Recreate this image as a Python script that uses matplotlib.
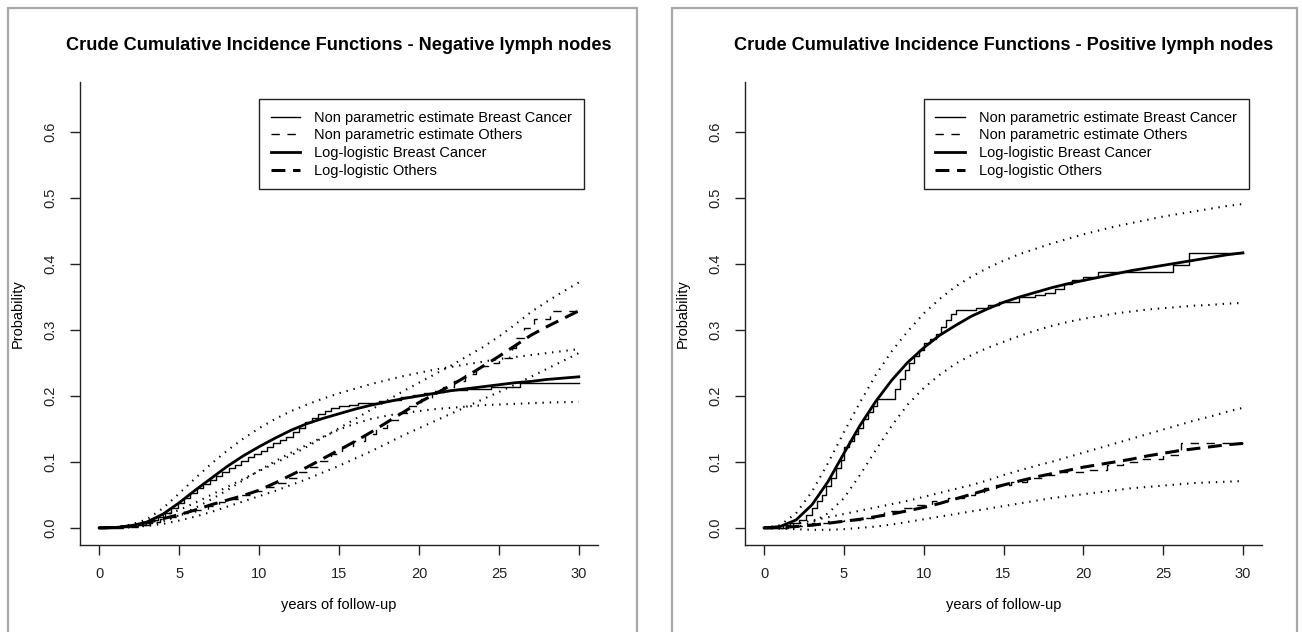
"""
Crude cumulative incidence curves for breast cancer death and other causes,
split by lymph node status: non parametric step estimates, log-logistic fits
and their pointwise bands.
"""
import matplotlib
matplotlib.use('Agg')
import matplotlib.pyplot as plt
from matplotlib.lines import Line2D
from matplotlib.patches import Rectangle

plt.rcParams['font.family'] = ['Liberation Sans', 'DejaVu Sans']
plt.rcParams['lines.scale_dashes'] = False

# yearly grid for the fitted curves and bands
years = list(range(31))

# ---- negative lymph nodes ----
neg_bc_fit = [0, 0.0005, 0.003, 0.009, 0.021, 0.038, 0.057, 0.075, 0.093, 0.109, 0.123,
              0.136, 0.148, 0.158, 0.166, 0.173, 0.180, 0.186, 0.191, 0.196, 0.200,
              0.204, 0.208, 0.211, 0.214, 0.217, 0.220, 0.222, 0.225, 0.227, 0.229]
neg_bc_up = [0, 0.001, 0.005, 0.013, 0.030, 0.052, 0.075, 0.097, 0.117, 0.135, 0.151,
             0.165, 0.177, 0.187, 0.196, 0.204, 0.211, 0.218, 0.224, 0.230, 0.235,
             0.240, 0.244, 0.248, 0.252, 0.256, 0.259, 0.262, 0.265, 0.268, 0.271]
neg_bc_lo = [0, 0.0002, 0.001, 0.004, 0.010, 0.019, 0.030, 0.043, 0.057, 0.072, 0.087,
             0.101, 0.114, 0.126, 0.138, 0.149, 0.158, 0.165, 0.170, 0.174, 0.177,
             0.180, 0.182, 0.184, 0.186, 0.187, 0.188, 0.189, 0.190, 0.1905, 0.191]
neg_oth_fit = [0, 0.0005, 0.003, 0.008, 0.014, 0.020, 0.027, 0.035, 0.042, 0.049, 0.057,
               0.068, 0.080, 0.092, 0.105, 0.118, 0.131, 0.145, 0.160, 0.175, 0.190,
               0.203, 0.216, 0.230, 0.245, 0.260, 0.276, 0.292, 0.305, 0.317, 0.329]
neg_oth_up = [0, 0.001, 0.004, 0.010, 0.018, 0.027, 0.038, 0.050, 0.062, 0.074, 0.086,
              0.098, 0.110, 0.123, 0.137, 0.151, 0.165, 0.179, 0.193, 0.207, 0.220,
              0.233, 0.246, 0.260, 0.274, 0.290, 0.308, 0.327, 0.343, 0.358, 0.372]
neg_oth_lo = [0, 0.0002, 0.001, 0.003, 0.006, 0.011, 0.017, 0.024, 0.032, 0.040, 0.048,
              0.056, 0.065, 0.074, 0.084, 0.094, 0.105, 0.116, 0.128, 0.140, 0.151,
              0.162, 0.173, 0.184, 0.195, 0.206, 0.217, 0.229, 0.241, 0.253, 0.265]

neg_bc_np_t = [0, 1.0, 1.8, 2.4, 2.9, 3.3, 3.7, 4.1, 4.5, 4.9, 5.3, 5.7, 6.1, 6.5, 6.9,
               7.3, 7.7, 8.1, 8.5, 8.9, 9.3, 9.7, 10.1, 10.5, 10.9, 11.3, 11.7, 12.1,
               12.5, 12.9, 13.3, 13.7, 14.1, 14.5, 15.0, 15.6, 16.2, 16.8, 17.5, 18.2,
               18.9, 19.6, 20.3, 21.0, 21.8, 23.0, 24.5, 26.3, 30]
neg_bc_np = [0, 0.001, 0.003, 0.005, 0.008, 0.012, 0.017, 0.022, 0.030, 0.038, 0.046,
             0.053, 0.060, 0.066, 0.072, 0.078, 0.085, 0.090, 0.095, 0.101, 0.107,
             0.112, 0.117, 0.122, 0.128, 0.133, 0.138, 0.145, 0.152, 0.160, 0.166,
             0.172, 0.177, 0.181, 0.184, 0.187, 0.189, 0.190, 0.192, 0.194, 0.198,
             0.202, 0.205, 0.208, 0.209, 0.211, 0.213, 0.219, 0.219]
neg_oth_np_t = [0, 1.5, 2.5, 3.2, 3.8, 4.4, 5.2, 6.0, 6.8, 7.5, 8.2, 8.9, 9.6, 10.3,
                11.0, 11.7, 12.4, 13.1, 13.8, 14.5, 15.2, 15.9, 16.6, 17.3, 18.0, 18.7,
                19.4, 20.1, 20.8, 21.5, 22.2, 22.9, 23.6, 24.3, 25.0, 25.8, 26.1, 26.6,
                27.2, 28.2, 30]
neg_oth_np = [0, 0.002, 0.005, 0.009, 0.013, 0.017, 0.022, 0.027, 0.033, 0.039, 0.044,
              0.050, 0.056, 0.062, 0.068, 0.076, 0.084, 0.093, 0.102, 0.112, 0.122,
              0.132, 0.142, 0.152, 0.163, 0.174, 0.185, 0.196, 0.205, 0.213, 0.222,
              0.233, 0.245, 0.250, 0.258, 0.273, 0.288, 0.303, 0.316, 0.329, 0.329]

# ---- positive lymph nodes ----
pos_bc_fit = [0, 0.002, 0.012, 0.035, 0.070, 0.113, 0.155, 0.192, 0.224, 0.251, 0.273,
              0.292, 0.307, 0.321, 0.332, 0.342, 0.350, 0.357, 0.364, 0.370, 0.375,
              0.380, 0.385, 0.390, 0.394, 0.398, 0.402, 0.406, 0.410, 0.414, 0.417]
pos_bc_up = [0, 0.004, 0.022, 0.055, 0.098, 0.145, 0.190, 0.232, 0.268, 0.298, 0.325,
             0.347, 0.366, 0.381, 0.394, 0.405, 0.415, 0.423, 0.431, 0.438, 0.445,
             0.451, 0.457, 0.462, 0.467, 0.472, 0.476, 0.480, 0.484, 0.488, 0.491]
pos_bc_lo = [0, -0.001, 0.001, 0.008, 0.022, 0.045, 0.080, 0.118, 0.155, 0.187, 0.212,
             0.232, 0.249, 0.262, 0.273, 0.282, 0.291, 0.299, 0.306, 0.312, 0.317,
             0.321, 0.325, 0.328, 0.331, 0.333, 0.335, 0.337, 0.338, 0.340, 0.341]
pos_oth_fit = [0, 0.0005, 0.002, 0.004, 0.007, 0.010, 0.013, 0.017, 0.021, 0.026, 0.031,
               0.037, 0.044, 0.051, 0.058, 0.065, 0.071, 0.077, 0.082, 0.087, 0.092,
               0.096, 0.100, 0.104, 0.109, 0.113, 0.117, 0.120, 0.123, 0.126, 0.128]
pos_oth_up = [0, 0.002, 0.006, 0.011, 0.016, 0.021, 0.026, 0.031, 0.036, 0.041, 0.047,
              0.053, 0.059, 0.065, 0.072, 0.080, 0.087, 0.094, 0.100, 0.107, 0.114,
              0.121, 0.128, 0.135, 0.142, 0.149, 0.156, 0.163, 0.169, 0.176, 0.182]
pos_oth_lo = [0, -0.001, -0.002, -0.003, -0.003, -0.002, 0.000, 0.002, 0.005, 0.009,
              0.013, 0.017, 0.021, 0.025, 0.029, 0.033, 0.037, 0.041, 0.045, 0.048,
              0.051, 0.054, 0.057, 0.060, 0.062, 0.064, 0.066, 0.068, 0.069, 0.070, 0.071]

pos_bc_np_t = [0, 1.2, 1.6, 2.2, 2.6, 3.0, 3.3, 3.6, 3.9, 4.2, 4.5, 4.8, 5.0, 5.3, 5.6,
               5.9, 6.2, 6.5, 6.8, 7.1, 8.2, 8.5, 8.8, 9.1, 9.4, 9.7, 10.0, 10.4, 10.8,
               11.1, 11.4, 11.7, 12.0, 13.3, 14.0, 14.7, 16.0, 17.0, 17.6, 18.2, 18.8,
               19.3, 20.0, 20.9, 25.6, 26.6, 30]
pos_bc_np = [0, 0.004, 0.007, 0.012, 0.020, 0.030, 0.040, 0.050, 0.064, 0.076, 0.090,
             0.103, 0.122, 0.132, 0.142, 0.152, 0.165, 0.176, 0.185, 0.195, 0.210,
             0.225, 0.240, 0.250, 0.260, 0.270, 0.280, 0.286, 0.294, 0.305, 0.315,
             0.324, 0.330, 0.334, 0.338, 0.342, 0.350, 0.353, 0.356, 0.362, 0.370,
             0.376, 0.380, 0.388, 0.398, 0.417, 0.417]
pos_oth_np_t = [0, 1.5, 2.5, 3.0, 4.0, 5.0, 6.0, 7.0, 7.5, 8.5, 9.5, 10.5, 11.5, 12.5,
                13.2, 13.8, 14.5, 15.5, 16.5, 17.5, 18.5, 20.0, 21.5, 22.5, 23.7, 25.0,
                26.1, 30]
pos_oth_np = [0, 0.003, 0.006, 0.008, 0.010, 0.012, 0.015, 0.020, 0.025, 0.030, 0.035,
              0.040, 0.045, 0.050, 0.055, 0.060, 0.065, 0.070, 0.075, 0.080, 0.085,
              0.088, 0.095, 0.100, 0.105, 0.110, 0.128, 0.128]

xticks = [0, 5, 10, 15, 20, 25, 30]
yticks = [0.0, 0.1, 0.2, 0.3, 0.4, 0.5, 0.6]
legend_labels = ['Non parametric estimate Breast Cancer',
                 'Non parametric estimate Others',
                 'Log-logistic Breast Cancer',
                 'Log-logistic Others']

W, H = 1302, 632
FS = 10.5

thin_solid = dict(color='black', lw=1.0, linestyle='-')
thin_dash = dict(color='black', lw=1.0, linestyle=(0, (6, 5.5)))
thick_solid = dict(color='black', lw=2.0, linestyle='-')
thick_dash = dict(color='black', lw=2.2, linestyle=(0, (10, 5.5)))
dotted = dict(color='black', lw=1.5, linestyle=(0, (1.0, 4.2)))


def add_px_axes(fig, x0, x1, y0, y1):  # axes from pixel edges
    return fig.add_axes([x0 / W, 1 - y1 / H, (x1 - x0) / W, (y1 - y0) / H])


def panel(ax, title, bc_fit, bc_up, bc_lo, oth_fit, oth_up, oth_lo,
          bc_np_t, bc_np, oth_np_t, oth_np):

    ax.plot(bc_np_t, bc_np, drawstyle='steps-post', **thin_solid)
    ax.plot(oth_np_t, oth_np, drawstyle='steps-post', **thin_dash)
    ax.plot(years, bc_fit, **thick_solid)
    ax.plot(years, oth_fit, **thick_dash)
    for band in (bc_up, bc_lo, oth_up, oth_lo):
        ax.plot(years, band, **dotted)

    ax.set_xlim(-1.2, 31.2)
    ax.set_ylim(-0.026, 0.676)
    ax.set_xticks(xticks)
    ax.set_yticks(yticks)
    ax.set_xticklabels([str(v) for v in xticks], fontsize=FS)
    ax.set_yticklabels(['%.1f' % v for v in yticks], fontsize=FS, rotation=90, va='center')
    ax.tick_params(direction='out', length=7, width=1, pad=9, colors='#222222')
    for s in ('top', 'right'):
        ax.spines[s].set_visible(False)
    for s in ('left', 'bottom'):
        ax.spines[s].set_linewidth(1)
        ax.spines[s].set_color('#222222')

    ax.set_title(title, fontsize=13.1, fontweight='bold', pad=23)
    ax.set_xlabel('years of follow-up', fontsize=FS)
    ax.set_ylabel('Probability', fontsize=FS)
    ax.xaxis.set_label_coords(0.5, -0.115)
    ax.yaxis.set_label_coords(-0.106, 0.5)

    handles = [Line2D([], [], **thin_solid), Line2D([], [], **thin_dash),
               Line2D([], [], **thick_solid), Line2D([], [], **thick_dash)]
    leg = ax.legend(handles, legend_labels, loc='upper left',
                    bbox_to_anchor=(10, 0.65), bbox_transform=ax.transData,
                    borderaxespad=0, fontsize=FS, frameon=True, fancybox=False,
                    framealpha=1, edgecolor='#222222', borderpad=0.8,
                    labelspacing=0.25, handlelength=2.0, handletextpad=1.0)
    leg.get_frame().set_linewidth(1)


fig = plt.figure(figsize=(W / 100, H / 100), dpi=100)

# grey frames around the two panels
for x0, x1 in ((8, 637), (672, 1297)):
    fig.patches.append(Rectangle((x0 / W, -0.05), (x1 - x0) / W, 1 - 8 / H + 0.05,
                                 transform=fig.transFigure, fill=False,
                                 edgecolor='#a8a8a8', lw=1.6))

ax1 = add_px_axes(fig, 80, 598, 82, 545)
panel(ax1, 'Crude Cumulative Incidence Functions - Negative lymph nodes',
      neg_bc_fit, neg_bc_up, neg_bc_lo, neg_oth_fit, neg_oth_up, neg_oth_lo,
      neg_bc_np_t, neg_bc_np, neg_oth_np_t, neg_oth_np)

ax2 = add_px_axes(fig, 745, 1262, 82, 545)
panel(ax2, 'Crude Cumulative Incidence Functions - Positive lymph nodes',
      pos_bc_fit, pos_bc_up, pos_bc_lo, pos_oth_fit, pos_oth_up, pos_oth_lo,
      pos_bc_np_t, pos_bc_np, pos_oth_np_t, pos_oth_np)

plt.savefig('out.png', dpi=100)
